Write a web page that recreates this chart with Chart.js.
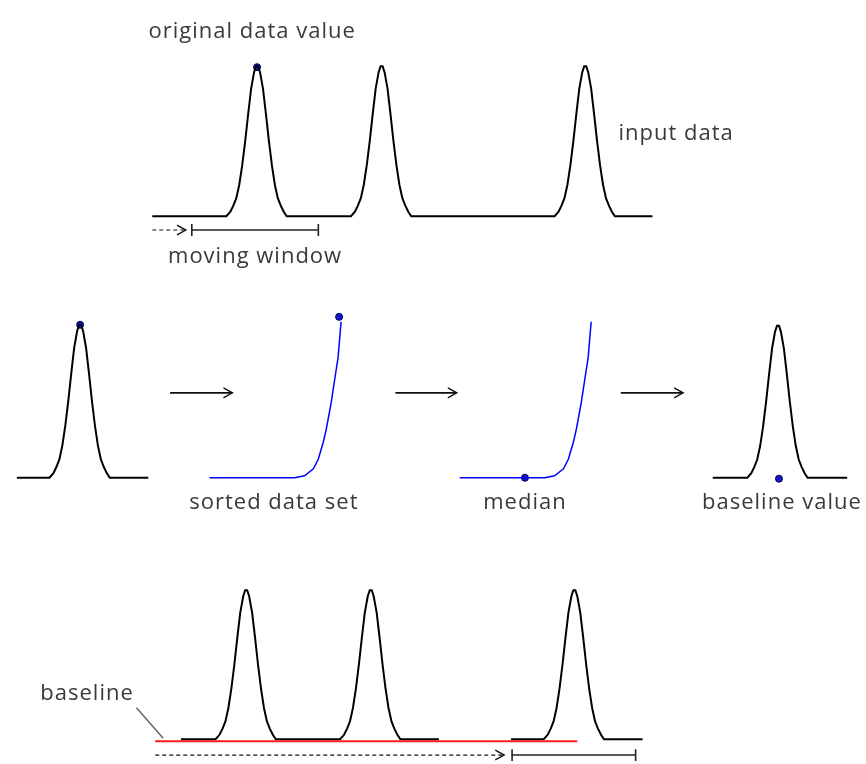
<html lang="en">
<head>
    <meta charset="UTF-8">
    <title>Moving window median baseline</title>
    <script src="https://cdn.jsdelivr.net/npm/chart.js"></script>
    <style>
        body { margin: 0; background: #fff; }
    </style>
</head>
<body>
    <canvas id="baselineChart" width="866" height="764"></canvas>
    <script>
        // Peak shape: offset from centre and relative height
        var peakOffsets = [-31, -27, -24, -21, -18, -15, -12, -9, -6, -3, -1, 1, 3, 6, 9, 12, 15, 18, 21, 24, 27, 30];
        var peakHeights = [0, 0.03, 0.07, 0.12, 0.21, 0.34, 0.5, 0.68, 0.85, 0.96, 1, 1, 0.96, 0.85, 0.68, 0.5, 0.34, 0.21, 0.12, 0.07, 0.03, 0];

        // Input data (top row)
        var inputStart = 149, inputEnd = 655, inputBase = 214, inputPeak = 152;
        var inputCenters = [255, 381, 587];

        // Middle row: one window of data and the resulting baseline value
        var windowStart = 12, windowEnd = 145, windowCenter = 76, windowBase = 479, windowPeak = 155;
        var resultStart = 716, resultEnd = 852, resultCenter = 782, resultPeak = 154;

        // Sorted data set and median curves
        var sortedX = [207, 293, 303, 312, 317, 322, 325, 330, 333, 337, 340];
        var sortedY = [479, 479, 477, 470, 460, 443, 430, 403, 383, 357, 321];
        var medianX = [460, 546, 556, 565, 570, 575, 578, 583, 586, 590, 593];
        var medianY = [479, 479, 477, 470, 460, 443, 430, 403, 383, 357, 321];

        // Bottom row: data with baseline
        var bottomBase = 744, bottomPeak = 151;
        var bottomSegStarts = [178, 512];
        var bottomSegEnds = [439, 645];
        var bottomSegCenters = [[244, 370], [576]];
        var baselineX = [152, 579];
        var baselineY = 746;

        // Marked values
        var dotX = [255, 76, 338, 526, 783];
        var dotY = [63, 324, 316, 479, 480];

        // Arrows: [from, to, y]
        var solidArrows = [[167, 230, 393], [395, 457, 393], [623, 686, 393]];
        var dashedArrows = [[149, 183, 228], [152, 505, 760]];
        var windowBars = [[189, 317, 228], [513, 638, 760]];

        // Text labels
        var labelText = ['original data value', 'input data', 'moving window', 'sorted data set', 'median', 'baseline value', 'baseline'];
        var labelX = [250, 679, 253, 272, 526, 786, 83];
        var labelY = [33, 137, 261, 511, 511, 511, 704];

        var leaderX = [133, 160];
        var leaderY = [712, 743];

        function trace(start, end, base, height, centers) {
            var pts = [{ x: start, y: base }];
            centers.forEach(function (c) {
                peakOffsets.forEach(function (o, i) {
                    pts.push({ x: c + o, y: base - height * peakHeights[i] });
                });
            });
            pts.push({ x: end, y: base });
            return pts;
        }

        function line(points, color, width, dash) {
            return {
                data: points,
                showLine: true,
                borderColor: color,
                borderWidth: width,
                borderDash: dash || [],
                pointRadius: 0,
                fill: false,
                tension: 0,
                clip: false
            };
        }

        var datasets = [];
        datasets.push(line([{ x: baselineX[0], y: baselineY }, { x: baselineX[1], y: baselineY }], '#ff1a1a', 2));
        datasets.push(line(trace(inputStart, inputEnd, inputBase, inputPeak, inputCenters), '#000', 2));
        datasets.push(line(trace(windowStart, windowEnd, windowBase, windowPeak, [windowCenter]), '#000', 2));
        datasets.push(line(trace(resultStart, resultEnd, windowBase, resultPeak, [resultCenter]), '#000', 2));
        bottomSegStarts.forEach(function (s, i) {
            datasets.push(line(trace(s, bottomSegEnds[i], bottomBase, bottomPeak, bottomSegCenters[i]), '#000', 2));
        });
        datasets.push(line(sortedX.map(function (x, i) { return { x: x, y: sortedY[i] }; }), '#0000ff', 1.5));
        datasets.push(line(medianX.map(function (x, i) { return { x: x, y: medianY[i] }; }), '#0000ff', 1.5));

        solidArrows.concat(dashedArrows).forEach(function (a, i) {
            var dash = i >= solidArrows.length ? [4, 3] : [];
            var w = dash.length ? 1.2 : 1.6;
            datasets.push(line([{ x: a[0], y: a[2] }, { x: a[1], y: a[2] }], '#111', w, dash));
            datasets.push(line([{ x: a[1] - 9, y: a[2] - 5 }, { x: a[1], y: a[2] }, { x: a[1] - 9, y: a[2] + 5 }], '#111', 1.4));
        });
        windowBars.forEach(function (b) {
            datasets.push(line([{ x: b[0], y: b[2] }, { x: b[1], y: b[2] }], '#222', 1.6));
            datasets.push(line([{ x: b[0], y: b[2] - 6 }, { x: b[0], y: b[2] + 6 }], '#222', 1.6));
            datasets.push(line([{ x: b[1], y: b[2] - 6 }, { x: b[1], y: b[2] + 6 }], '#222', 1.6));
        });
        datasets.push(line(leaderX.map(function (x, i) { return { x: x, y: leaderY[i] }; }), '#666', 1.5));

        datasets.push({
            data: dotX.map(function (x, i) { return { x: x, y: dotY[i] }; }),
            showLine: false,
            pointRadius: 3.5,
            pointBackgroundColor: '#1414c8',
            pointBorderColor: '#00005a',
            pointBorderWidth: 1,
            clip: false
        });

        var labelPlugin = {
            id: 'labels',
            afterDatasetsDraw: function (chart) {
                var ctx = chart.ctx;
                var xs = chart.scales.x, ys = chart.scales.y;
                ctx.save();
                ctx.fillStyle = '#3a3a3a';
                ctx.font = '22px "Open Sans"';
                ctx.letterSpacing = '1px';
                ctx.textAlign = 'center';
                ctx.textBaseline = 'alphabetic';
                labelText.forEach(function (t, i) {
                    ctx.fillText(t, xs.getPixelForValue(labelX[i]), ys.getPixelForValue(labelY[i]));
                });
                ctx.restore();
            }
        };

        var ctx = document.getElementById('baselineChart').getContext('2d');
        var chart = new Chart(ctx, {
            type: 'scatter',
            data: { datasets: datasets },
            options: {
                responsive: false,
                animation: false,
                layout: { padding: 0 },
                plugins: { legend: { display: false }, tooltip: { enabled: false } },
                scales: {
                    x: { type: 'linear', min: 0, max: 866, display: false },
                    y: { type: 'linear', min: 0, max: 764, reverse: true, display: false }
                }
            },
            plugins: [labelPlugin]
        });
    </script>
</body>
</html>
